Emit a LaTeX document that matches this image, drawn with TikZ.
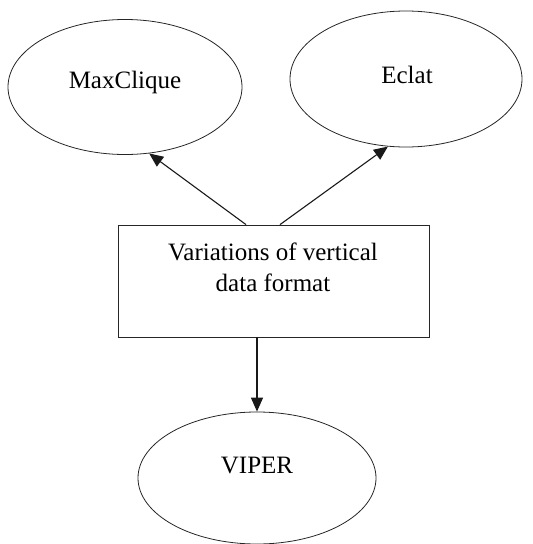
\documentclass[tikz,border=0pt]{standalone}
\usepackage{fontspec}
\setmainfont{Liberation Serif}
\usetikzlibrary{shapes.geometric,arrows.meta}
\begin{document}
\begin{tikzpicture}[x=1pt,y=-1pt,
  oval/.style={ellipse,draw=black!85,line width=0.8pt,inner sep=0pt},
  boxnode/.style={rectangle,draw=black!85,line width=0.8pt,inner sep=0pt,minimum width=311pt,minimum height=112pt},
  lbl/.style={font=\fontsize{25}{31}\selectfont,inner sep=0pt,align=center},
  arr/.style={draw=black!90,line width=1.1pt,-{Triangle[length=14pt,width=12pt]}}]
\useasboundingbox (0,0) rectangle (533,544);
\node[oval,minimum width=234pt,minimum height=135pt] (mc) at (125,87) {};
\node[lbl] (mct) at (125,82) {MaxClique};
\node[oval,minimum width=232pt,minimum height=136pt] (ec) at (406,79) {};
\node[lbl] (ect) at (407,75) {Eclat};
\node[boxnode] (box) at (273.5,281) {};
\node[lbl] (boxt) at (273,267) {Variations of vertical\\data format};
\node[oval,minimum width=238pt,minimum height=132pt] (vp) at (257,478) {};
\node[lbl] (vpt) at (257,465) {VIPER};
\draw[arr] ([xshift=-27.5pt]box.north) -- (mc.-70);
\draw[arr] ([xshift=6.5pt]box.north) -- (ec.-105);
\draw[arr] (box.south -| vp.north) -- (vp.north);
\end{tikzpicture}
\end{document}
